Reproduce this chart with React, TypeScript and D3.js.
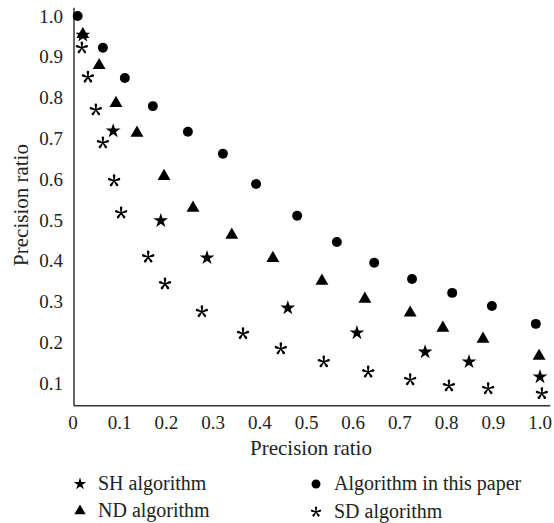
import { useEffect, useRef } from 'react';
import * as d3 from 'd3';

// values
const xTicks = [0, 0.1, 0.2, 0.3, 0.4, 0.5, 0.6, 0.7, 0.8, 0.9, 1.0];
const yTicks = [0.1, 0.2, 0.3, 0.4, 0.5, 0.6, 0.7, 0.8, 0.9, 1.0];

const paperX = [0.01, 0.064, 0.111, 0.171, 0.246, 0.321, 0.392, 0.48, 0.565, 0.645, 0.726, 0.812, 0.897, 0.991];
const paperY = [1.0, 0.922, 0.848, 0.779, 0.716, 0.662, 0.588, 0.51, 0.446, 0.395, 0.355, 0.321, 0.289, 0.245];

const ndX = [0.021, 0.056, 0.092, 0.137, 0.195, 0.257, 0.34, 0.428, 0.533, 0.625, 0.722, 0.792, 0.878, 0.998];
const ndY = [0.955, 0.879, 0.786, 0.713, 0.607, 0.529, 0.463, 0.406, 0.35, 0.306, 0.272, 0.235, 0.208, 0.166];

const shX = [0.021, 0.086, 0.188, 0.287, 0.46, 0.608, 0.754, 0.848, 1.0];
const shY = [0.953, 0.718, 0.498, 0.407, 0.284, 0.223, 0.176, 0.152, 0.115];

const sdX = [0.019, 0.032, 0.049, 0.064, 0.088, 0.103, 0.161, 0.197, 0.276, 0.364, 0.445, 0.537, 0.632, 0.722, 0.805, 0.889, 1.004];
const sdY = [0.922, 0.85, 0.77, 0.689, 0.596, 0.517, 0.409, 0.343, 0.275, 0.221, 0.184, 0.152, 0.127, 0.108, 0.093, 0.086, 0.074];

const legendLabels = ['SH algorithm', 'ND algorithm', 'Algorithm in this paper', 'SD algorithm'];

// five-armed asterisk like the typeset "*": tapered arms, fat at the tip
const asteriskPath = (r: number) => {
  const p = d3.path();
  for (let k = 0; k < 5; k++) {
    const a = -Math.PI / 2 + (k * 2 * Math.PI) / 5;
    const c = Math.cos(a), s = Math.sin(a);
    const nx = -s, ny = c;
    const w0 = r * 0.08, w1 = r * 0.2;
    const tip = r - w1;
    p.moveTo(nx * w0, ny * w0);
    p.lineTo(c * tip + nx * w1, s * tip + ny * w1);
    p.arc(c * tip, s * tip, w1, a + Math.PI / 2, a - Math.PI / 2, true);
    p.lineTo(-nx * w0, -ny * w0);
    p.closePath();
  }
  return p.toString();
};

export default function App() {
  const svgRef = useRef<SVGSVGElement>(null);

  useEffect(() => {
    const font = 'Liberation Serif, Times New Roman, DejaVu Serif, serif';

    const svg = d3.select(svgRef.current);
    svg.selectAll('*').remove();

    const x = d3.scaleLinear().domain([0, 1]).range([73, 540]);
    const y = d3.scaleLinear().domain([0.1, 1]).range([383, 16]);

    // axes: plain lines, no tick marks
    svg.append('line')
      .attr('x1', x(0) + 1).attr('x2', x(0) + 1)
      .attr('y1', y(1.02)).attr('y2', y(0.044))
      .attr('stroke', '#333').attr('stroke-width', 1.5);
    svg.append('line')
      .attr('x1', x(0) + 1).attr('x2', x(1.022))
      .attr('y1', y(0.044)).attr('y2', y(0.044))
      .attr('stroke', '#333').attr('stroke-width', 1.5);

    const txt = (fs: number) => (sel: any) =>
      sel.style('font-family', font).style('font-size', `${fs}px`).attr('fill', '#222');

    svg.append('g')
      .selectAll('text')
      .data(yTicks)
      .join('text')
      .attr('x', 63)
      .attr('y', d => y(d))
      .attr('dy', '0.35em')
      .attr('text-anchor', 'end')
      .call(txt(19))
      .text(d => d.toFixed(1));

    svg.append('g')
      .selectAll('text')
      .data(xTicks)
      .join('text')
      .attr('x', d => x(d))
      .attr('y', 422)
      .attr('dy', '0.35em')
      .attr('text-anchor', 'middle')
      .call(txt(19))
      .text(d => (d === 0 ? '0' : d.toFixed(1)));

    svg.append('text')
      .attr('x', 311).attr('y', 448).attr('dy', '0.35em')
      .attr('text-anchor', 'middle')
      .call(txt(21))
      .text('Precision ratio');

    svg.append('text')
      .attr('transform', 'translate(21,205) rotate(-90)')
      .attr('dy', '0.35em')
      .attr('text-anchor', 'middle')
      .call(txt(21))
      .text('Precision ratio');

    const star = d3.symbol().type(d3.symbolStar).size(68)();
    const bigTri = d3.symbol().type(d3.symbolTriangle).size(72)();
    const dot = d3.symbol().type(d3.symbolCircle).size(78)();
    const ast = asteriskPath(6.4);

    const plot = svg.append('g');

    plot.selectAll('.paper')
      .data(d3.zip(paperX, paperY))
      .join('path')
      .attr('transform', d => `translate(${x(d[0])},${y(d[1])})`)
      .attr('d', dot)
      .attr('fill', '#000');

    plot.selectAll('.nd')
      .data(d3.zip(ndX, ndY))
      .join('path')
      .attr('transform', d => `translate(${x(d[0])},${y(d[1])})`)
      .attr('d', bigTri)
      .attr('fill', '#000');

    plot.selectAll('.sh')
      .data(d3.zip(shX, shY))
      .join('path')
      .attr('transform', d => `translate(${x(d[0])},${y(d[1])})`)
      .attr('d', star)
      .attr('fill', '#000');

    plot.selectAll('.sd')
      .data(d3.zip(sdX, sdY))
      .join('path')
      .attr('transform', d => `translate(${x(d[0])},${y(d[1])})`)
      .attr('d', ast)
      .attr('fill', '#000');

    // legend
    const legendPos = [[80, 484], [80, 511], [316, 484], [316, 512]];
    const legendSymbols = [
      d3.symbol().type(d3.symbolStar).size(48)(),
      d3.symbol().type(d3.symbolTriangle).size(56)(),
      d3.symbol().type(d3.symbolCircle).size(62)(),
      asteriskPath(5.4),
    ];
    legendLabels.forEach((label, i) => {
      const g = svg.append('g').attr('transform', `translate(${legendPos[i][0]},${legendPos[i][1]})`);
      g.append('path').attr('d', legendSymbols[i]).attr('fill', '#000');
      g.append('text')
        .attr('x', 18).attr('y', -1).attr('dy', '0.35em')
        .call(txt(20))
        .text(label);
    });
  }, []);

  return (
    <svg
      ref={svgRef}
      width={554}
      height={523}
      style={{ position: 'absolute', left: 0, top: 0, background: '#fff' }}
    />
  );
}
